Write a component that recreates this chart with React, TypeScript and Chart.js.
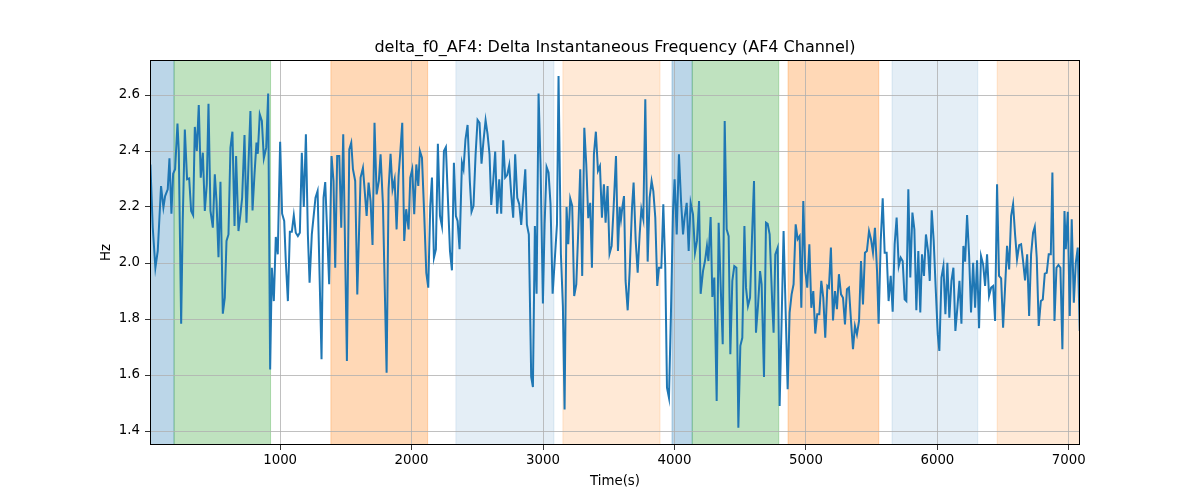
import { useEffect, useRef } from "react";
import { Chart, registerables, type Plugin } from "chart.js";

Chart.register(...registerables);

// sample times (s)
const times = [
  13, 31, 51, 69, 94, 112, 125, 145, 158, 173, 186, 201, 219, 229, 247, 259, 275, 292, 308, 323,
  338, 351, 366, 381, 396, 412, 427, 442, 455, 470, 488, 503, 516, 531, 546, 564, 579, 592, 607, 622,
  637, 653, 665, 683, 698, 711, 729, 744, 759, 774, 790, 805, 820, 830, 845, 861, 876, 894, 909, 924,
  937, 952, 967, 982, 1000, 1015, 1031, 1043, 1059, 1074, 1089, 1104, 1119, 1135, 1150, 1165, 1180, 1196, 1211,
  1224, 1241, 1269, 1285, 1315, 1330, 1343, 1373, 1391, 1406, 1419, 1434, 1450, 1465, 1480, 1508, 1526, 1541, 1554, 1571,
  1587, 1612, 1630, 1658, 1673, 1688, 1703, 1718, 1734, 1751, 1764, 1782, 1810, 1825, 1840, 1855, 1871, 1886, 1901, 1914,
  1929, 1944, 1959, 1977, 1990, 2005, 2020, 2036, 2051, 2063, 2079, 2096, 2112, 2127, 2142, 2155, 2170, 2185, 2200, 2216,
  2231, 2246, 2261, 2277, 2292, 2307, 2322, 2337, 2350, 2365, 2383,
  2395, 2410, 2426, 2443, 2456, 2471, 2487, 2502, 2517, 2532, 2547, 2563, 2578, 2593, 2606, 2621, 2636, 2651, 2667, 2682,
  2697, 2712, 2727, 2743, 2758, 2773, 2788, 2804, 2819, 2834, 2849, 2865, 2877, 2892, 2910, 2923, 2938, 2951, 2966, 2981,
  2999, 3012, 3027, 3042, 3057, 3073, 3088, 3106, 3118, 3136, 3151, 3164, 3179, 3192, 3207, 3222, 3237, 3253, 3268, 3283,
  3298, 3314, 3329, 3344, 3359, 3372, 3387, 3402, 3418, 3433, 3448, 3463, 3476, 3491, 3506, 3522, 3537, 3555, 3570,
  3583, 3593, 3603, 3616, 3628, 3644, 3659, 3677, 3689, 3705, 3720, 3735, 3748, 3763, 3778, 3796, 3811, 3826, 3839, 3854,
  3869, 3882, 3900, 3915, 3930, 3943, 3958, 3973, 3989, 4001, 4017, 4034, 4050, 4065, 4077, 4093, 4108, 4123, 4141, 4156,
  4171, 4187, 4199, 4217, 4232, 4247, 4258, 4275, 4288, 4303, 4321, 4336, 4351, 4367, 4382, 4397, 4412, 4425, 4440, 4455,
  4471, 4486, 4501, 4516, 4532, 4544, 4559, 4575, 4590, 4605, 4620, 4636, 4651, 4663, 4681, 4696, 4709, 4724, 4745,
  4754, 4767, 4785, 4800, 4815, 4830, 4845, 4861, 4876, 4891, 4906, 4922, 4937, 4952, 4965, 4980, 4995, 5010, 5026, 5041,
  5056, 5071, 5086, 5102, 5117, 5132, 5147, 5163, 5175, 5190, 5206, 5221, 5236, 5251, 5267, 5282, 5297, 5312, 5327, 5343,
  5358, 5373, 5388, 5404, 5419, 5434, 5449, 5464, 5480, 5495, 5510, 5525, 5541, 5553, 5569, 5584, 5599, 5614, 5629, 5645,
  5660, 5675, 5690, 5706, 5721, 5736, 5751, 5764, 5779, 5794, 5810, 5825, 5840, 5855, 5870, 5883, 5898, 5913, 5929,
  5942, 5957, 5972, 5987, 6003, 6015, 6031, 6046, 6061, 6076, 6091, 6107, 6122, 6137, 6152, 6168, 6183, 6198, 6211, 6226,
  6241, 6256, 6272, 6287, 6302, 6317, 6332, 6348, 6363, 6378, 6393, 6409, 6424, 6439, 6454, 6469, 6485, 6500, 6515, 6530,
  6546, 6561, 6576, 6591, 6606, 6622, 6637, 6652, 6667, 6683, 6698, 6713, 6728, 6741, 6756, 6771, 6787, 6802, 6817, 6832,
  6847, 6863, 6875, 6891, 6906, 6921, 6936, 6951, 6967, 6977, 6992, 7007, 7022, 7038, 7053, 7068, 7083,
];

// delta f0 (Hz)
const deltaF0 = [
  2.352, 2.126, 1.983, 2.043, 2.275, 2.198, 2.239, 2.263, 2.374, 2.176, 2.319, 2.335, 2.498, 2.4, 1.783, 2.15, 2.477, 2.299, 2.302, 2.186,
  2.171, 2.486, 2.4, 2.564, 2.305, 2.394, 2.186, 2.281, 2.569, 2.186, 2.126, 2.317, 2.221, 2.021, 2.29, 1.819, 1.876, 2.079, 2.102, 2.412,
  2.469, 2.132, 2.382, 2.114, 2.174, 2.233, 2.457, 2.144, 2.352, 2.543, 2.188, 2.317, 2.43, 2.39, 2.531, 2.507, 2.374, 2.412, 2.605, 1.62,
  1.983, 1.864, 2.093, 2.031, 2.433, 2.176, 2.15, 2.007, 1.864, 2.112, 2.112, 2.17, 2.108, 2.096, 2.108, 2.394, 2.2, 2.46, 2.102,
  1.93, 2.102, 2.233, 2.257, 1.656, 2.233, 2.289, 1.924, 2.382, 2.293, 1.983, 2.382, 2.382, 2.126, 2.46, 1.65, 2.406, 2.43, 2.335, 2.293,
  1.888, 2.305, 2.34, 2.168, 2.287, 2.221, 2.064, 2.501, 2.245, 2.293, 2.388, 2.21, 1.608, 2.263, 2.39, 2.263, 2.299, 2.12, 2.311, 2.394,
  2.501, 2.079, 2.192, 2.12, 2.305, 2.335, 2.174, 2.352, 2.275, 2.4, 2.376, 2.174, 1.965, 1.912, 2.204, 2.305, 2.019, 2.049, 2.426, 2.168,
  2.132, 2.4, 2.414, 2.221, 2.043, 1.974, 2.358, 2.168, 2.15, 2.049, 2.358,
  2.335, 2.442, 2.493, 2.293, 2.183, 2.204, 2.388, 2.511, 2.501, 2.355, 2.436, 2.51, 2.46, 2.388, 2.207, 2.293, 2.398, 2.176, 2.299, 2.176,
  2.438, 2.305, 2.314, 2.35, 2.245, 2.162, 2.388, 2.233, 2.21, 2.136, 2.233, 2.335, 2.138, 2.102, 1.593, 1.557, 2.132, 1.89, 2.605, 2.352,
  1.855, 2.138, 2.343, 2.323, 2.21, 1.89, 2.001, 2.138, 2.668, 2.031, 1.846, 1.477, 2.2, 2.067, 2.23, 2.204, 1.882, 1.924, 2.114, 2.335,
  1.954, 2.483, 2.352, 2.16, 2.215, 1.983, 2.388, 2.469, 2.329, 2.346, 2.162, 2.281, 2.144, 2.275, 2.033, 2.061, 2.198, 2.382, 2.043,
  2.2, 2.156, 2.198, 2.239, 1.936, 1.831, 1.971, 2.198, 2.287, 2.079, 1.965, 2.102, 2.192, 2.156, 2.585, 2.005, 2.233, 2.293, 2.257, 2.162,
  1.918, 1.983, 1.983, 2.21, 1.983, 1.555, 1.519, 1.817, 2.186, 2.299, 2.102, 2.388, 2.221, 2.102, 2.162, 2.215, 2.043, 2.215, 2.174, 2.037,
  2.079, 2.221, 1.89, 1.971, 2.007, 2.061, 2.007, 2.164, 1.879, 1.948, 1.507, 2.144, 1.924, 1.71, 2.507, 2.12, 2.096, 1.674, 1.936, 1.989,
  1.983, 1.412, 1.704, 1.733, 2.132, 1.912, 1.846, 1.876, 2.096, 2.293, 1.751, 1.852, 1.971, 1.924, 1.593, 2.144, 2.14, 2.102, 1.84,
  1.751, 2.031, 2.055, 1.489, 1.793, 2.114, 1.84, 1.549, 1.823, 1.888, 1.924, 2.138, 2.085, 2.096, 1.84, 2.221, 1.971, 1.912, 2.067, 1.84,
  1.9, 1.748, 1.817, 1.817, 1.936, 1.876, 1.733, 1.918, 1.912, 2.055, 1.795, 1.9, 1.835, 1.96, 1.888, 1.876, 1.781, 1.906, 1.912, 1.793,
  1.692, 1.775, 1.745, 1.793, 2.007, 1.852, 2.037, 2.043, 2.114, 2.085, 2.037, 2.126, 1.971, 1.783, 2.079, 2.231, 2.037, 2.037, 1.864, 1.954,
  1.826, 2.067, 2.162, 1.989, 2.019, 2.007, 1.87, 1.864, 2.263, 1.948, 2.18, 2.12, 1.831, 2.043, 1.823, 2.031, 1.954, 2.102, 2.043,
  1.936, 2.188, 2.079, 1.912, 1.745, 1.686, 1.948, 1.989, 1.817, 2.001, 1.805, 1.936, 1.983, 1.757, 1.84, 1.936, 1.783, 2.061, 2.005, 2.171,
  2.031, 1.823, 2.001, 1.84, 2.01, 1.767, 2.025, 1.995, 1.918, 2.031, 1.882, 1.912, 1.918, 1.793, 2.281, 1.954, 1.945, 1.769, 1.912, 2.061,
  1.977, 2.168, 2.21, 2.102, 2.013, 2.064, 2.067, 2.007, 1.938, 2.031, 1.811, 2.031, 2.108, 2.129, 2.019, 1.775, 1.864, 1.87, 1.962, 1.965,
  2.031, 2.031, 2.323, 1.793, 1.983, 1.993, 1.983, 1.692, 2.186, 2.049, 2.183, 1.811, 2.156, 1.858, 2.001, 2.055, 1.757,
];

// shaded segments (s)
const spanStarts = [0, 193, 1386, 2337, 3151, 3981, 4135, 4864, 5655, 6455];
const spanEnds = [193, 927, 2122, 3083, 3890, 4135, 4793, 5554, 6307, 7100];
const spanColors = [
  "rgba(31,119,180,0.3)",
  "rgba(44,160,44,0.3)",
  "rgba(255,127,14,0.3)",
  "rgba(31,119,180,0.12)",
  "rgba(255,127,14,0.17)",
  "rgba(31,119,180,0.3)",
  "rgba(44,160,44,0.3)",
  "rgba(255,127,14,0.3)",
  "rgba(31,119,180,0.12)",
  "rgba(255,127,14,0.17)",
];

const xTicks = [1000, 2000, 3000, 4000, 5000, 6000, 7000];
const yTicks = [1.4, 1.6, 1.8, 2.0, 2.2, 2.4, 2.6];

const TITLE = "delta_f0_AF4: Delta Instantaneous Frequency (AF4 Channel)";
const FONT = "DejaVu Sans";

const spansPlugin: Plugin = {
  id: "spans",
  beforeDraw(chart) {
    const { ctx, chartArea } = chart;
    const x = chart.scales.x;
    ctx.save();
    ctx.beginPath();
    ctx.rect(chartArea.left, chartArea.top, chartArea.right - chartArea.left, chartArea.bottom - chartArea.top);
    ctx.clip();
    spanStarts.forEach((s, i) => {
      const x0 = x.getPixelForValue(s);
      const x1 = x.getPixelForValue(spanEnds[i]);
      ctx.fillStyle = spanColors[i];
      ctx.strokeStyle = spanColors[i];
      ctx.lineWidth = 1;
      ctx.fillRect(x0, chartArea.top, x1 - x0, chartArea.bottom - chartArea.top);
      ctx.strokeRect(x0, chartArea.top, x1 - x0, chartArea.bottom - chartArea.top);
    });
    ctx.restore();
  },
  afterDraw(chart) {
    const { ctx, chartArea } = chart;
    ctx.save();
    ctx.strokeStyle = "#000";
    ctx.lineWidth = 1;
    ctx.strokeRect(
      Math.round(chartArea.left) + 0.5,
      Math.round(chartArea.top) + 0.5,
      Math.round(chartArea.right - chartArea.left) - 1,
      Math.round(chartArea.bottom - chartArea.top) - 1,
    );
    ctx.fillStyle = "#000";
    ctx.textAlign = "center";
    ctx.textBaseline = "alphabetic";
    const cx = (chartArea.left + chartArea.right) / 2;
    ctx.font = `16px "${FONT}"`;
    ctx.fillText(TITLE, cx, 52);
    ctx.font = `13.33px "${FONT}"`;
    ctx.fillText("Time(s)", cx, 485);
    ctx.translate(110, (chartArea.top + chartArea.bottom) / 2);
    ctx.rotate(-Math.PI / 2);
    ctx.fillText("Hz", 0, 0);
    ctx.restore();
  },
};

export default function App() {
  const canvasRef = useRef<HTMLCanvasElement | null>(null);

  useEffect(() => {
    if (!canvasRef.current) return;
    const n = Math.min(times.length, deltaF0.length);
    const points = times.slice(0, n).map((t, i) => ({ x: t, y: deltaF0[i] }));

    const chart = new Chart(canvasRef.current, {
      type: "line",
      data: {
        datasets: [
          {
            data: points,
            borderColor: "#1f77b4",
            borderWidth: 2,
            pointRadius: 0,
            tension: 0,
            fill: false,
          },
        ],
      },
      options: {
        animation: false,
        responsive: false,
        devicePixelRatio: 1,
        layout: { padding: { top: 60, right: 120, bottom: 0, left: 0 } },
        plugins: { legend: { display: false }, tooltip: { enabled: false }, title: { display: false } },
        scales: {
          x: {
            type: "linear",
            min: 10,
            max: 7085,
            afterBuildTicks: (scale) => {
              scale.ticks = xTicks.map((v) => ({ value: v }));
            },
            afterFit: (scale) => {
              scale.height = 55;
            },
            grid: { color: "#b0b0b0", lineWidth: 0.8, tickColor: "#000", tickLength: 5 },
            border: { display: false },
            ticks: {
              color: "#000",
              padding: 3,
              maxRotation: 0,
              font: { family: FONT, size: 13.33 },
              callback: (v) => String(v),
            },
          },
          y: {
            type: "linear",
            min: 1.35,
            max: 2.725,
            afterBuildTicks: (scale) => {
              scale.ticks = yTicks.map((v) => ({ value: v }));
            },
            afterFit: (scale) => {
              scale.width = 150;
            },
            grid: { color: "#b0b0b0", lineWidth: 0.8, tickColor: "#000", tickLength: 5 },
            border: { display: false },
            ticks: {
              color: "#000",
              padding: 5,
              font: { family: FONT, size: 13.33 },
              callback: (v) => Number(v).toFixed(1),
            },
          },
        },
      },
      plugins: [spansPlugin],
    });

    return () => chart.destroy();
  }, []);

  return (
    <div style={{ position: "absolute", left: 0, top: 0, width: 1200, height: 500, background: "#fff" }}>
      <canvas ref={canvasRef} width={1200} height={500} style={{ width: 1200, height: 500 }} />
    </div>
  );
}
